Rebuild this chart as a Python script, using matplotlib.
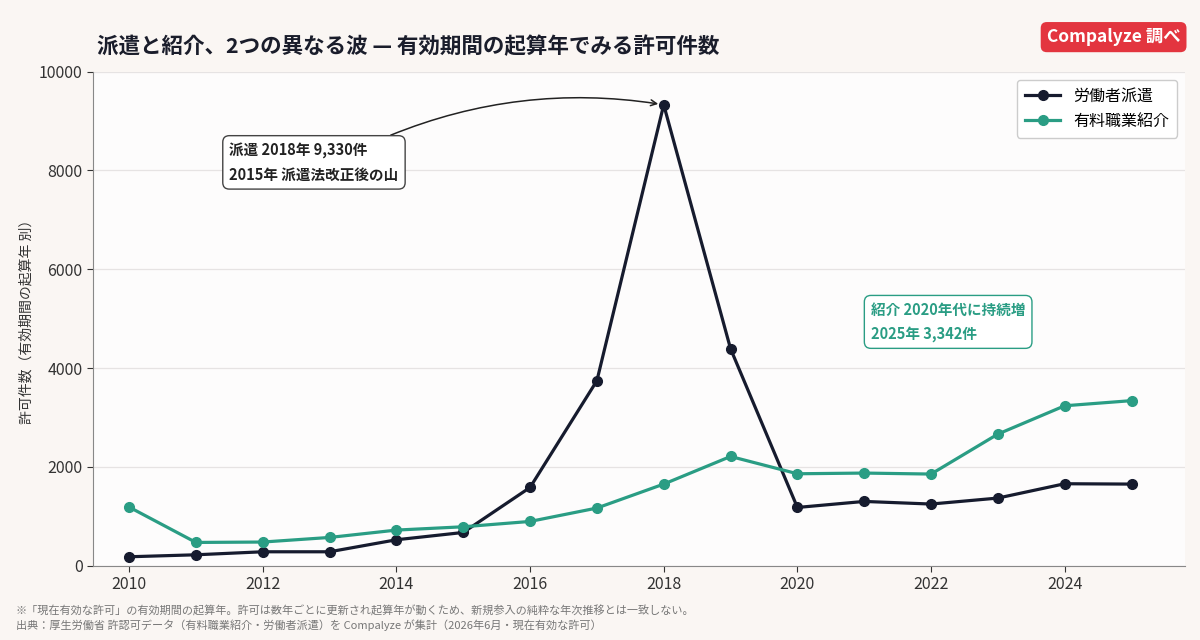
import matplotlib.pyplot as plt

plt.rcParams['font.family'] = ['Noto Sans CJK JP', 'DejaVu Sans']

years = list(range(2010, 2026))
haken = [182, 222, 283, 283, 526, 674, 1585, 3745, 9330, 4392,
         1180, 1302, 1249, 1370, 1660, 1653]
shokai = [1188, 472, 480, 573, 722, 789, 897, 1168, 1653, 2212,
          1862, 1876, 1856, 2665, 3238, 3342]
label_haken = "労働者派遣"
label_shokai = "有料職業紹介"

c_haken = "#161b2e"
c_shokai = "#2a9d84"

fig = plt.figure(figsize=(12, 6.4), dpi=100, facecolor="#faf6f3")
ax = fig.add_axes([0.0775, 0.116, 0.91, 0.772])
ax.set_facecolor("#fdfcfc")

ax.plot(years, haken, color=c_haken, lw=2.3, marker="o", ms=7, label=label_haken, zorder=3)
ax.plot(years, shokai, color=c_shokai, lw=2.3, marker="o", ms=7, label=label_shokai, zorder=3)

ax.set_xlim(2009.46, 2025.8)
ax.set_ylim(0, 10000)
ax.set_xticks(range(2010, 2026, 2))
ax.set_yticks(range(0, 10001, 2000))
ax.tick_params(labelsize=11.5, colors="#333333", length=4)
ax.grid(axis="y", color="#e6e3e3", lw=0.9)
ax.grid(axis="x", visible=False)
ax.set_axisbelow(True)
for s in ["top", "right"]:
    ax.spines[s].set_visible(False)
for s in ["left", "bottom"]:
    ax.spines[s].set_color("#888888")

ax.set_ylabel("許可件数（有効期間の起算年 別）", fontsize=10, color="#333333")

leg = ax.legend(loc="upper right", fontsize=11.5, frameon=True, framealpha=1,
                edgecolor="#cccccc", borderpad=0.5, handlelength=2.2)

# annotations
ax.annotate("派遣 2018年 9,330件\n2015年 派遣法改正後の山",
            xy=(2018, 9330), xytext=(2011.5, 8160),
            fontsize=10.5, fontweight="bold", color="#222222", va="center",
            linespacing=1.6,
            bbox=dict(boxstyle="round,pad=0.45", fc="white", ec="#444444", lw=1),
            arrowprops=dict(arrowstyle="->", color="#222222", lw=1.1,
                            connectionstyle="arc3,rad=-0.15",
                            shrinkA=0, shrinkB=4,
                            relpos=(0.85, 1.0)))
ax.text(2021.1, 4940, "紹介 2020年代に持続増\n2025年 3,342件",
        fontsize=10.5, fontweight="bold", color=c_shokai, va="center",
        linespacing=1.6,
        bbox=dict(boxstyle="round,pad=0.45", fc="white", ec=c_shokai, lw=1))

fig.text(0.081, 0.927, "派遣と紹介、2つの異なる波 — 有効期間の起算年でみる許可件数",
         fontsize=15.5, fontweight="bold", color="#1a1d2b", va="center")

fig.text(0.928, 0.942, "Compalyze 調べ", fontsize=12.5, fontweight="bold", color="white",
         ha="center", va="center",
         bbox=dict(boxstyle="round,pad=0.35", fc="#e3353f", ec="none"))

fig.text(0.013, 0.046, "※「現在有効な許可」の有効期間の起算年。許可は数年ごとに更新され起算年が動くため、新規参入の純粋な年次推移とは一致しない。",
         fontsize=8, color="#777777", va="center")
fig.text(0.013, 0.023, "出典：厚生労働省 許認可データ（有料職業紹介・労働者派遣）を Compalyze が集計（2026年6月・現在有効な許可）",
         fontsize=8, color="#777777", va="center")

fig.savefig("out.png", dpi=100, facecolor=fig.get_facecolor())
